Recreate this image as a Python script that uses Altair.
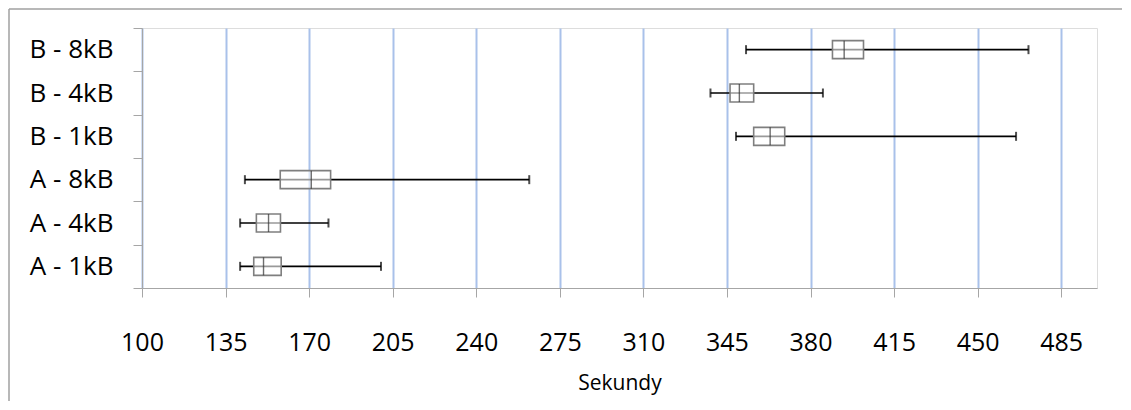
import altair as alt
import pandas as pd

categories = ["B - 8kB", "B - 4kB", "B - 1kB", "A - 8kB", "A - 4kB", "A - 1kB"]
mins = [353.0, 338.1, 348.8, 143.1, 141.1, 141.1]
q1s = [389.2, 346.3, 356.2, 157.9, 147.9, 146.8]
medians = [394.1, 350.2, 363.1, 170.9, 153.0, 150.9]
q3s = [402.2, 356.2, 369.2, 179.0, 158.0, 158.3]
maxs = [471.3, 385.2, 466.1, 262.2, 178.1, 200.1]
tick_values = [100, 135, 170, 205, 240, 275, 310, 345, 380, 415, 450, 485]

df = pd.DataFrame({"cat": categories, "mn": mins, "q1": q1s, "med": medians, "q3": q3s, "mx": maxs})

FONT = "Open Sans"

x_scale = alt.Scale(domain=[100, 500], nice=False, zero=False)
y_scale = alt.Scale(domain=categories, paddingInner=0, paddingOuter=0)

x_axis = alt.Axis(values=tick_values, title="Sekundy", grid=True, gridColor="#a9c1ea",
                  gridWidth=2, domainColor="#a6a6a6", tickColor="#a6a6a6", tickSize=9,
                  labelFontSize=25, labelFont=FONT, labelColor="#000000", labelPadding=33,
                  titleFontSize=21, titleFont=FONT, titleFontWeight="normal",
                  titleColor="#000000", titlePadding=17, labelFlush=False)
y_axis = alt.Axis(title=None, tickBand="extent", grid=False, domainColor="#a6a6a6",
                  tickColor="#a6a6a6", tickSize=9, labelFontSize=26, labelFont=FONT,
                  labelColor="#000000", labelPadding=20)

base = alt.Chart(df)
one = pd.DataFrame({"a": [0]})

border_top = alt.Chart(one).mark_rule(color="#a0a0a0", strokeWidth=1.5).encode(
    x=alt.value(-133), x2=alt.value(980), y=alt.value(-19))
border_left = alt.Chart(one).mark_rule(color="#a0a0a0", strokeWidth=1.5).encode(
    x=alt.value(-133), y=alt.value(-19), y2=alt.value(373))

whisker = base.mark_rule(color="#000000", strokeWidth=1.6).encode(
    x=alt.X("mn:Q", scale=x_scale, axis=x_axis),
    x2="mx:Q",
    y=alt.Y("cat:N", scale=y_scale, axis=y_axis, sort=categories),
)
cap_lo = base.mark_tick(color="#000000", thickness=2, size=9, orient="vertical").encode(
    x=alt.X("mn:Q", scale=x_scale), y=alt.Y("cat:N", scale=y_scale, sort=categories))
cap_hi = base.mark_tick(color="#000000", thickness=2, size=9, orient="vertical").encode(
    x=alt.X("mx:Q", scale=x_scale), y=alt.Y("cat:N", scale=y_scale, sort=categories))
box = base.mark_bar(fill="#ffffff", fillOpacity=0.0, stroke="#7f7f7f", strokeWidth=1.6, size=18).encode(
    x=alt.X("q1:Q", scale=x_scale), x2="q3:Q", y=alt.Y("cat:N", scale=y_scale, sort=categories))
box_fill = base.mark_bar(fill="#ffffff", opacity=0.6, size=18).encode(
    x=alt.X("q1:Q", scale=x_scale), x2="q3:Q", y=alt.Y("cat:N", scale=y_scale, sort=categories))
median = base.mark_tick(color="#303030", thickness=1.4, size=18, orient="vertical").encode(
    x=alt.X("med:Q", scale=x_scale), y=alt.Y("cat:N", scale=y_scale, sort=categories))

chart = alt.layer(border_top, border_left, whisker, box_fill, box, cap_lo, cap_hi, median).properties(
    width=955, height=260,
    autosize=alt.AutoSizeParams(type="none"),
    padding={"left": 134, "top": 20, "right": 26, "bottom": 114},
).configure_view(stroke=None).configure(background="#ffffff")

chart.save("out.html", embed_options={"renderer": "svg", "actions": False})
